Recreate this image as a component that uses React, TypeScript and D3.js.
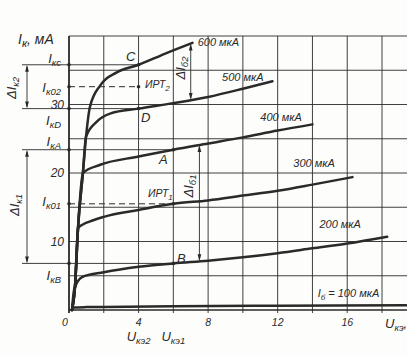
import React from "react";
import * as d3 from "d3";

const W = 407;
const H = 355;

// Base current labels (мкА) and output characteristics Iк(Uкэ)
const baseCurrents = [100, 200, 300, 400, 500, 600];
const curve100: [number, number][] = [[0.17, 0], [0.25, 0.35], [1, 0.42], [2, 0.45], [6, 0.55], [12, 0.62], [19.4, 0.68]];
const curve200: [number, number][] = [[0.17, 0], [0.3, 3.0], [0.75, 4.8], [2, 5.5], [4, 6.3], [6, 6.8], [8, 7.2], [10, 7.7], [12, 8.3], [14, 9.0], [16, 9.7], [18.3, 10.7]];
const curve300: [number, number][] = [[0.17, 0], [0.35, 3.6], [0.52, 12], [1.4, 13.1], [2, 13.6], [4, 14.6], [6, 15.5], [8, 16.0], [10, 16.7], [12, 17.4], [14, 18.3], [16.3, 19.4]];
const curve400: [number, number][] = [[0.17, 0], [0.35, 3.6], [0.52, 12], [0.8, 20], [1.8, 21.2], [4, 22.4], [6, 23.4], [8, 24.3], [10, 25.2], [12, 26.2], [14, 27.1]];
const curve500: [number, number][] = [[0.17, 0], [0.35, 3.6], [0.52, 12], [0.8, 20], [0.98, 25.3], [1.6, 27.5], [2.4, 28.7], [4, 29.4], [6, 30.2], [8, 31.1], [10, 32.3], [11.7, 33.4]];
const curve600: [number, number][] = [[0.17, 0], [0.35, 3.6], [0.52, 12], [0.8, 20], [0.98, 25.3], [1.2, 29.6], [1.8, 32.8], [2.75, 34.7], [4, 35.8], [5.5, 37.4], [7.1, 39.0]];
const curves = [curve100, curve200, curve300, curve400, curve500, curve600];

// Grid ticks
const xGridTicks = [0, 2, 4, 6, 8, 10, 12, 14, 16, 18];
const xTickLabels = [0, 4, 8, 12, 16];
const yGridTicks = [0, 5, 10, 15, 20, 25, 30, 35, 40];
const yTickLabels = [10, 20, 30];

// Operating points
const Uk2 = 4;
const Uk1 = 6;
const IkC = 35.8;
const Ik02 = 32.6;
const IkD = 29.4;
const IkA = 23.4;
const Ik01 = 15.5;
const IkB = 6.8;
const dIb2U = 7.0;
const dIb1U = 7.5;

function interp(c: [number, number][], u: number) {
  for (let i = 1; i < c.length; i++) {
    if (u <= c[i][0]) {
      const [x0, y0] = c[i - 1];
      const [x1, y1] = c[i];
      return y0 + ((y1 - y0) * (u - x0)) / (x1 - x0);
    }
  }
  return c[c.length - 1][1];
}

export default function App() {
  const x = d3.scaleLinear().domain([0, 18]).range([69, 382]);
  const y = d3.scaleLinear().domain([0, 40]).range([310, 36]);
  const line = d3
    .line<[number, number]>()
    .x((d) => x(d[0]))
    .y((d) => y(d[1]))
    .curve(d3.curveMonotoneX);

  const ink = "#2a2a2a";
  const font = "'Liberation Sans', 'DejaVu Sans', sans-serif";
  const txt = { fontFamily: font, fontStyle: "italic", fill: ink } as const;
  const xRight = W;
  const xMaxU = x.invert(xRight);

  const curveLabels = [
    { t: "I", sub: "б", rest: " = 100 мкА", u: 14.3, i: 1.9 },
    { t: "", sub: "", rest: "200 мкА", u: 14.4, i: 11.9 },
    { t: "", sub: "", rest: "300 мкА", u: 12.9, i: 20.9 },
    { t: "", sub: "", rest: "400 мкА", u: 11.0, i: 27.6 },
    { t: "", sub: "", rest: "500 мкА", u: 8.8, i: 33.5 },
    { t: "", sub: "", rest: "600 мкА", u: 7.4, i: 38.6 },
  ];

  const levelLabels = [
    { main: "I", sub: "кс", yy: 63 },
    { main: "I", sub: "к02", yy: 92 },
    { main: "I", sub: "кD", yy: 125 },
    { main: "I", sub: "кА", yy: 146 },
    { main: "I", sub: "к01", yy: 206 },
    { main: "I", sub: "кВ", yy: 280 },
  ];

  const vArrow = (xx: number, y1: number, y2: number, key: string) => {
    const a = 3;
    return (
      <g key={key} stroke={ink} fill={ink}>
        <line x1={xx} x2={xx} y1={y1 + 2} y2={y2 - 2} strokeWidth={0.9} />
        <path d={`M${xx},${y1} L${xx - a / 1.6},${y1 + 7} L${xx + a / 1.6},${y1 + 7}Z`} stroke="none" />
        <path d={`M${xx},${y2} L${xx - a / 1.6},${y2 - 7} L${xx + a / 1.6},${y2 - 7}Z`} stroke="none" />
      </g>
    );
  };

  const rotLabel = (cx: number, cy: number, main: string, sub: string, key: string) => (
    <text key={key} transform={`translate(${cx},${cy}) rotate(-90)`} textAnchor="middle" fontSize={13} {...txt}>
      {"Δ" + main}
      <tspan fontSize={9.5} dy={3}>{sub}</tspan>
    </text>
  );

  return (
    <svg width={W} height={H} style={{ position: "absolute", left: 0, top: 0, background: "#fdfdfc" }}>
      {/* grid */}
      {yGridTicks.map((t) => (
        <line key={"h" + t} x1={x(0)} x2={xRight} y1={y(t)} y2={y(t)} stroke={ink} strokeWidth={t === 0 ? 1.6 : 0.9} />
      ))}
      {xGridTicks.map((t) => (
        <line key={"v" + t} x1={x(t)} x2={x(t)} y1={y(40)} y2={y(0) + 3} stroke={ink} strokeWidth={t === 0 ? 1.8 : 0.9} />
      ))}

      {/* level lines */}
      <line x1={22} x2={x(Uk2)} y1={y(IkC)} y2={y(IkC)} stroke={ink} strokeWidth={0.9} />
      <line x1={22} x2={x(Uk2)} y1={y(IkD)} y2={y(IkD)} stroke={ink} strokeWidth={0.9} />
      <line x1={22} x2={x(Uk1)} y1={y(IkA)} y2={y(IkA)} stroke={ink} strokeWidth={0.9} />
      <line x1={22} x2={x(Uk1)} y1={y(IkB)} y2={y(IkB)} stroke={ink} strokeWidth={0.9} />
      <line x1={x(0)} x2={x(Uk2)} y1={y(Ik02)} y2={y(Ik02)} stroke={ink} strokeWidth={1} strokeDasharray="6,4" />
      <line x1={x(0)} x2={x(Uk1)} y1={y(Ik01)} y2={y(Ik01)} stroke={ink} strokeWidth={1} strokeDasharray="6,4" />

      {vArrow(27, y(IkC), y(IkD), "a2")}
      {vArrow(27, y(IkA), y(IkB), "a1")}
      {vArrow(x(dIb2U), y(interp(curve600, dIb2U)), y(interp(curve500, dIb2U)), "b2")}
      {vArrow(x(dIb1U), y(interp(curve400, dIb1U)), y(interp(curve200, dIb1U)), "b1")}

      {/* curves */}
      {curves.map((c, i) => (
        <path key={"c" + baseCurrents[i]} d={line(c.map((p) => [Math.min(p[0], xMaxU), p[1]] as [number, number])) || ""} fill="none" stroke={ink} strokeWidth={2.5} strokeLinecap="round" />
      ))}

      {/* dots */}
      {[IkC, Ik02, IkD, IkA, Ik01, IkB].map((v, i) => (
        <circle key={"ld" + i} cx={x(0)} cy={y(v)} r={1.8} fill={ink} />
      ))}
      {[
        [Uk2, IkC],
        [Uk2, Ik02],
        [Uk2, IkD],
        [Uk1, IkA],
        [Uk1, Ik01],
        [Uk1, IkB],
      ].map((p, i) => (
        <circle key={"pd" + i} cx={x(p[0])} cy={y(p[1])} r={1.8} fill={ink} />
      ))}

      {/* y tick labels */}
      {yTickLabels.map((t) => (
        <text key={"yl" + t} x={64} y={y(t) + 4} textAnchor="end" fontSize={12} {...txt}>
          {t}
        </text>
      ))}
      {/* x tick labels */}
      {xTickLabels.map((t) => (
        <text key={"xl" + t} x={x(t) - (t === 0 ? 4 : 0)} y={326} textAnchor="middle" fontSize={10.5} {...txt}>
          {t}
        </text>
      ))}
      <text x={x(Uk2)} y={341} textAnchor="middle" fontSize={13} {...txt}>
        U<tspan fontSize={9.5} dy={3}>кэ2</tspan>
      </text>
      <text x={x(Uk1)} y={341} textAnchor="middle" fontSize={13} {...txt}>
        U<tspan fontSize={9.5} dy={3}>кэ1</tspan>
      </text>
      <text x={385} y={328} fontSize={13} {...txt}>
        U<tspan fontSize={9.5} dy={3}>кэ</tspan>
        <tspan dy={-3}>,</tspan>
      </text>

      {/* axis title */}
      <text x={18} y={44} fontSize={14} {...txt}>
        I<tspan fontSize={11} dy={3}>к</tspan>
        <tspan dy={-3}>, мА</tspan>
      </text>

      {/* level labels */}
      {levelLabels.map((l) => (
        <text key={l.sub} x={61} y={l.yy} textAnchor="end" fontSize={13} {...txt}>
          {l.main}
          <tspan fontSize={9.5} dy={3}>{l.sub}</tspan>
        </text>
      ))}

      {rotLabel(16, 88, "I", "к2", "r1")}
      {rotLabel(19, 205, "I", "к1", "r2")}
      {rotLabel(x(dIb2U) - 6, 68, "I", "б2", "r3")}
      {rotLabel(x(dIb1U) - 6, 186, "I", "б1", "r4")}

      {/* point letters */}
      <text x={126} y={61} fontSize={13} {...txt}>C</text>
      <text x={141} y={122} fontSize={13} {...txt}>D</text>
      <text x={159} y={164} fontSize={13} {...txt}>A</text>
      <text x={177} y={263} fontSize={13} {...txt}>B</text>
      <text x={145} y={88} fontSize={10.5} {...txt}>
        ИРТ<tspan fontSize={8} dy={3}>2</tspan>
      </text>
      <text x={148} y={197} fontSize={10.5} {...txt}>
        ИРТ<tspan fontSize={8} dy={3}>1</tspan>
      </text>

      {/* curve labels */}
      {curveLabels.map((c, i) => (
        <text key={"cl" + i} x={x(c.u)} y={y(c.i)} fontSize={11} {...txt}>
          {c.t}
          {c.sub ? <tspan fontSize={8} dy={3}>{c.sub}</tspan> : null}
          <tspan dy={c.sub ? -3 : 0}>{c.rest}</tspan>
        </text>
      ))}
    </svg>
  );
}
